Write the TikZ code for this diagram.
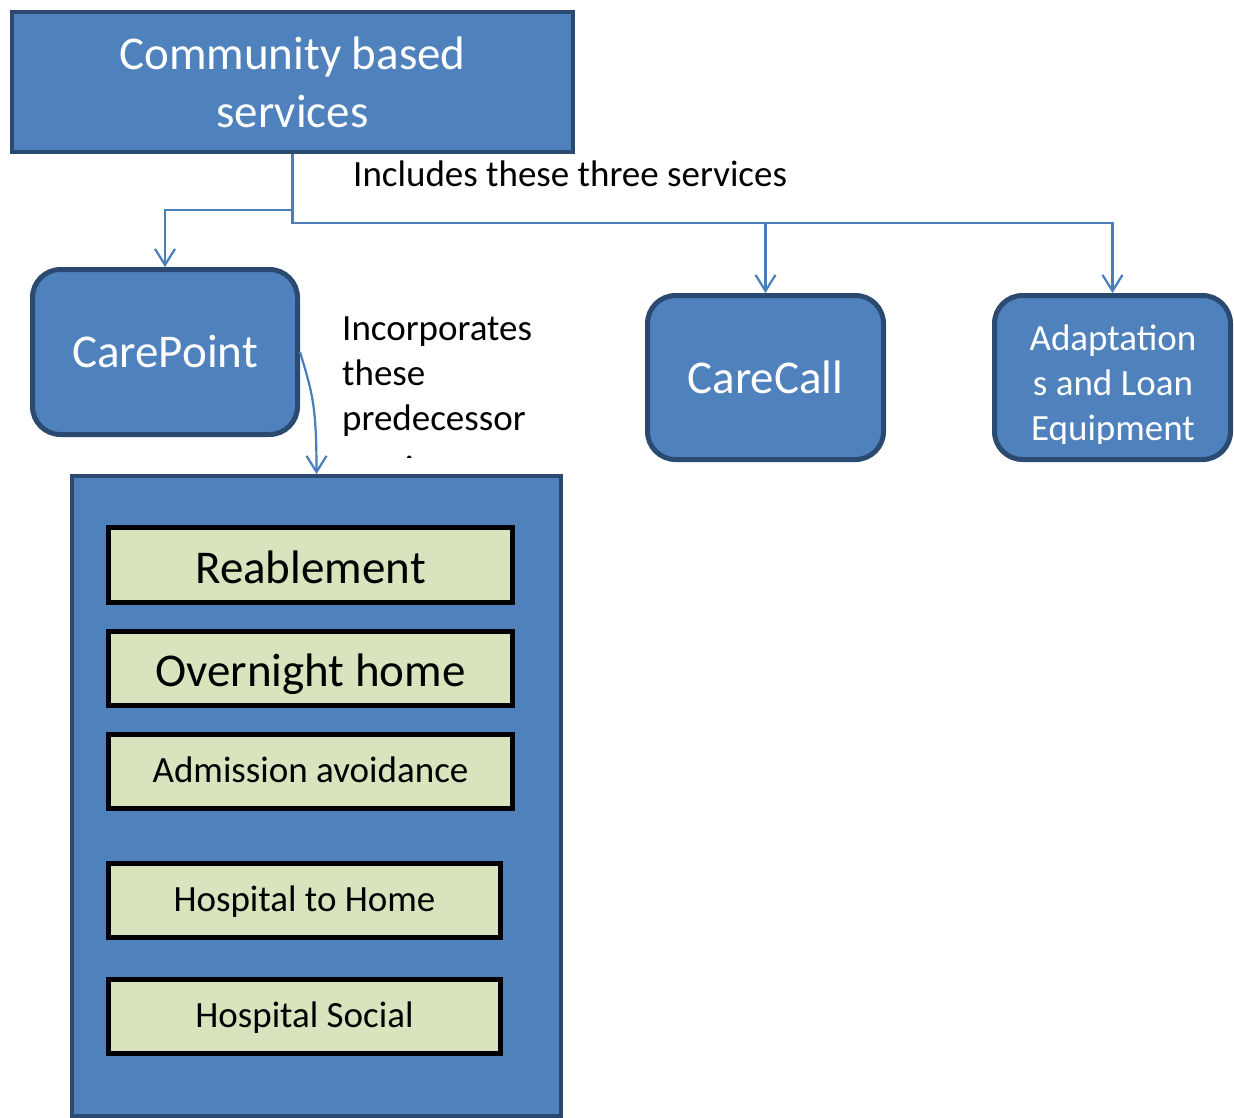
\documentclass[tikz,border=0pt]{standalone}
\usepackage{fontspec}
\setmainfont{Carlito}
\usetikzlibrary{arrows.meta}
\definecolor{boxblue}{HTML}{4F81BD}
\definecolor{boxedge}{HTML}{2B4A72}
\definecolor{linkblue}{HTML}{4A7EBB}
\definecolor{itemgreen}{HTML}{D7E4BD}
\tikzset{
	service/.style   = {shape=rectangle, draw=boxedge, fill=boxblue,
		text=white, inner sep=0pt, align=center, line width=5pt},
	mainbox/.style   = {service, line width=4pt,
		font=\fontsize{47}{58}\selectfont},
	unit/.style      = {service, rounded corners=28pt,
		font=\fontsize{47}{58}\selectfont},
	holder/.style    = {service, line width=4pt},
	item/.style      = {shape=rectangle, draw=black, fill=itemgreen,
		line width=5pt, inner sep=0pt, minimum height=74pt},
	bigitem/.style   = {item, font=\fontsize{47}{58}\selectfont,
		text height=40pt, text depth=4pt},
	smallitem/.style = {item, font=\fontsize{37}{45}\selectfont,
		text height=28pt, text depth=6pt},
	note/.style      = {align=left, inner sep=0pt,
		font=\fontsize{37}{45}\selectfont},
	link/.style      = {draw=linkblue, line width=2.2pt,
		-{Straight Barb[length=16pt,width=20pt]}}
}

\begin{document}
\begin{tikzpicture}[x=1pt, y=-1pt]
	\useasboundingbox (0,0) rectangle (1234,1118);
	% top level
	\node [mainbox, minimum width=561pt, minimum height=140pt] (community) at (292.5,82) {Community based\\services};
	\node [note, anchor=west] (includes) at (353,174) {Includes these three services};
	% the three services
	\node [unit, minimum width=265pt, minimum height=165pt] (carepoint) at (165,352) {CarePoint};
	\node [unit, minimum width=236pt, minimum height=164pt] (carecall) at (765.5,377.5) {CareCall};
	\node [unit, minimum width=236pt, minimum height=164pt] (adapt) at (1112.5,377.5) {};
	\begin{scope}
		\clip (990,290) rectangle (1234,443);
		\node [unit, draw=none, fill=none, font=\fontsize{37}{45}\selectfont] (adapttext) at (1113,386) {Adaptation\\s and Loan\\Equipment};
	\end{scope}
	\begin{scope}
		\clip (330,290) rectangle (640,457.5);
		\node [note, anchor=west] (incorporates) at (342,399) {Incorporates\\these\\predecessor\\[6pt]services};
	\end{scope}
	% predecessor services
	\node [holder, minimum width=489pt, minimum height=640pt] (holder) at (316.5,796) {};
	\node [bigitem, minimum width=404pt, minimum height=75pt] (reablement) at (310.5,565) {Reablement};
	\node [bigitem, minimum width=404pt] (overnight) at (310.5,668.5) {Overnight home};
	\node [smallitem, minimum width=404pt] (admission) at (310.5,771.5) {Admission avoidance};
	\node [smallitem, minimum width=392pt] (hospitalhome) at (304.5,900.5) {Hospital to Home};
	\node [smallitem, minimum width=392pt] (hospitalsocial) at (304.5,1016.5) {Hospital Social};
	% connectors
	\draw [link] (community.south) -- (community.south |- 0,223) -| (adapt.north);
	\draw [link] (community.south |- 0,223) -| (carecall.north);
	\draw [link] (community.south |- 0,210) -| (carepoint.north);
	\draw [link] (carepoint.east) .. controls +(12,40) and +(0,-70) .. (holder.north);
\end{tikzpicture}
\end{document}
